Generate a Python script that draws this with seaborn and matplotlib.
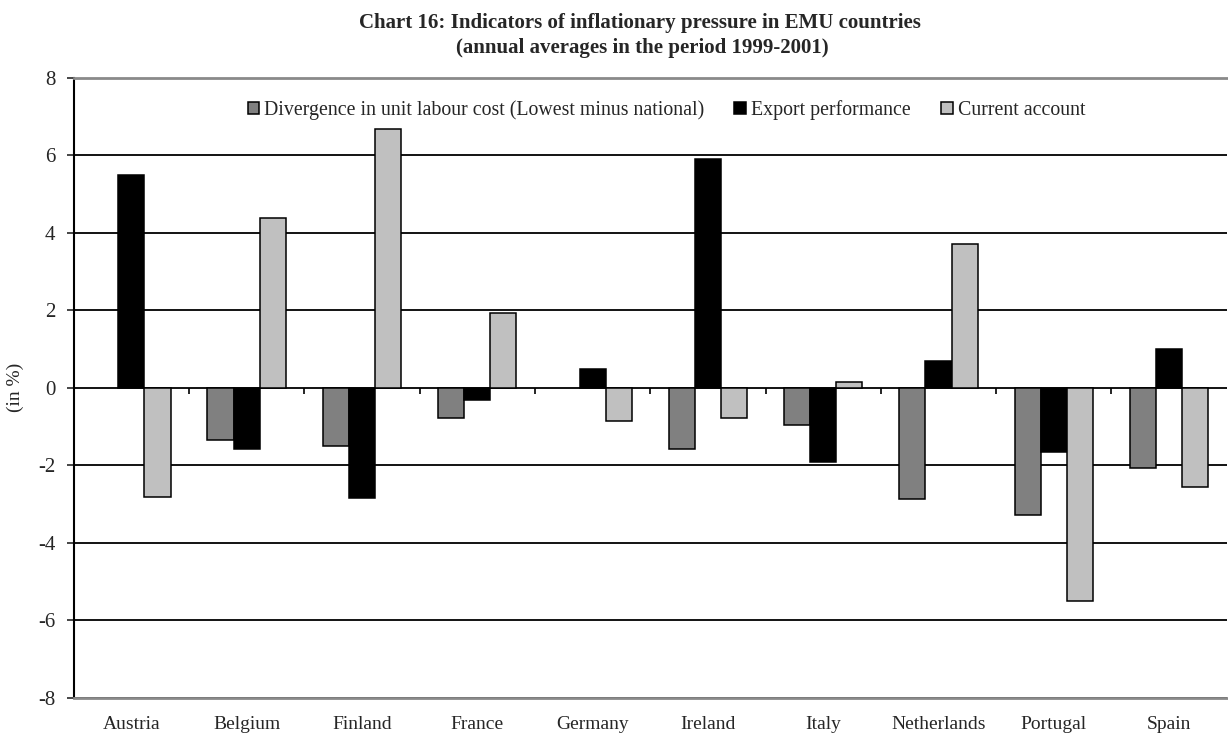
import numpy as np
import pandas as pd
import matplotlib
matplotlib.use('Agg')
import matplotlib.pyplot as plt
import seaborn as sns

# ========================
# DATA
# ========================

countries = ["Austria", "Belgium", "Finland", "France", "Germany",
             "Ireland", "Italy", "Netherlands", "Portugal", "Spain"]
series = ["Divergence in unit labour cost (Lowest minus national)",
          "Export performance", "Current account"]

divergence = [np.nan, -1.34, -1.49, -0.77, np.nan, -1.59, -0.97, -2.88, -3.29, -2.06]
export_perf = [5.50, -1.57, -2.84, -0.31, 0.48, 5.91, -1.92, 0.69, -1.66, 1.00]
current_acc = [-2.83, 4.39, 6.68, 1.93, -0.87, -0.77, 0.16, 3.72, -5.50, -2.57]

y_ticks = [-8, -6, -4, -2, 0, 2, 4, 6, 8]

colors = ["#808080", "#000000", "#C0C0C0"]

# long-form table for seaborn
df = pd.DataFrame({
    "country": countries * 3,
    "series": [s for s in series for _ in countries],
    "value": divergence + export_perf + current_acc,
})

# ========================
# PLOT
# ========================

sns.set_style("white")
plt.rcParams['font.family'] = ['Liberation Serif', 'DejaVu Serif']
plt.rcParams['axes.unicode_minus'] = False

fig = plt.figure(figsize=(12.28, 7.4), dpi=100)
ax = fig.add_axes([0.060, 0.057, 0.939, 0.838])

sns.barplot(data=df, x="country", y="value", hue="series",
            order=countries, hue_order=series, palette=colors,
            width=0.68, errorbar=None, edgecolor="black", linewidth=1.1,
            ax=ax, legend=True)

ax.set_ylim(-8, 8)
ax.set_xlim(-0.5, len(countries) - 0.5)
ax.set_yticks(y_ticks)
ax.set_yticklabels([str(t) for t in y_ticks], fontsize=15)
ax.set_axisbelow(True)
ax.yaxis.grid(True, color="black", linewidth=1.3)
ax.xaxis.grid(False)

# category labels below the plot, boundary ticks on the zero line
ax.tick_params(axis="x", length=0, pad=13, labelsize=14)
ax.tick_params(axis="y", length=5, width=1.2, direction="out", left=True, pad=8)
ax.vlines(np.arange(len(countries) - 1) + 0.5, 0, -0.17,
          color="black", linewidth=1.2, zorder=1)

ax.set_xlabel("")
ax.set_ylabel("(in %)", fontsize=14, labelpad=10)

for side in ["top", "bottom"]:
    ax.spines[side].set_color("#8a8a8a")
    ax.spines[side].set_linewidth(2)
ax.spines["left"].set_color("black")
ax.spines["left"].set_linewidth(1.5)
ax.spines["right"].set_visible(False)

handles, labels = ax.get_legend_handles_labels()
ax.legend(handles, labels, loc="center", bbox_to_anchor=(0.514, 0.948),
          ncol=3, frameon=False, fontsize=14.3, handlelength=0.6,
          handleheight=0.6, handletextpad=0.25, columnspacing=1.5)

fig.text(0.521, 0.969, "Chart 16: Indicators of inflationary pressure in EMU countries",
         ha="center", va="center", fontsize=15, fontweight="bold")
fig.text(0.523, 0.935, "(annual averages in the period 1999-2001)",
         ha="center", va="center", fontsize=15, fontweight="bold")

plt.savefig("out.png", dpi=100)
plt.close()
